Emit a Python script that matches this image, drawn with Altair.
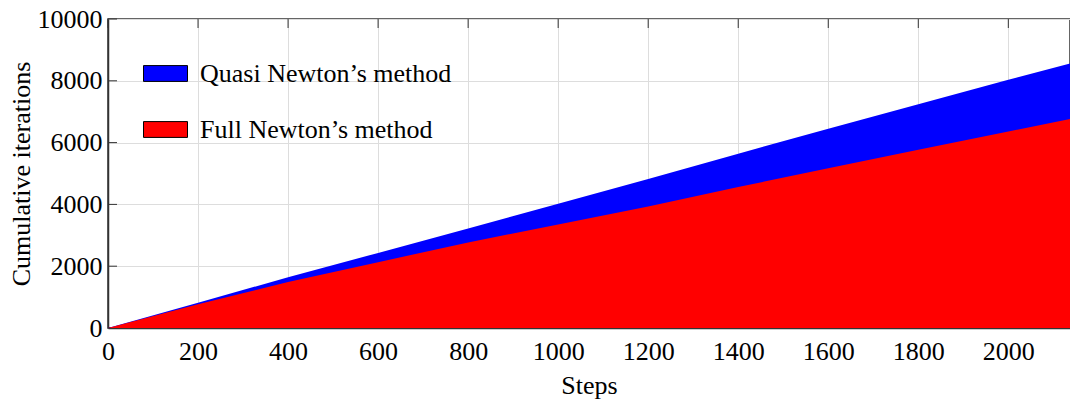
import altair as alt
import pandas as pd

steps = [0, 200, 400, 600, 800, 1000, 1200, 1400, 1600, 1800, 2000, 2137]
quasi = [0, 820, 1640, 2430, 3220, 4020, 4820, 5640, 6450, 7240, 8030, 8560]
full = [0, 770, 1490, 2130, 2770, 3350, 3930, 4560, 5170, 5770, 6360, 6760]

series_names = ["Quasi Newton\u2019s method", "Full Newton\u2019s method"]
series_colors = ["#0000FF", "#FF0000"]
x_ticks = [0, 200, 400, 600, 800, 1000, 1200, 1400, 1600, 1800, 2000]
y_ticks = [0, 2000, 4000, 6000, 8000, 10000]

rows = []
for s, q, f in zip(steps, quasi, full):
    rows.append({"step": s, "iters": q, "method": series_names[0]})
    rows.append({"step": s, "iters": f, "method": series_names[1]})
df = pd.DataFrame(rows)
xt_df = pd.DataFrame({"step": x_ticks})
yt_df = pd.DataFrame({"iters": y_ticks})

FONT = "Liberation Serif"
FS = 26

color = alt.Color(
    "method:N",
    scale=alt.Scale(domain=series_names, range=series_colors),
    sort=series_names,
    legend=alt.Legend(
        title=None,
        orient="none",
        legendX=35,
        legendY=32,
        symbolType="M-1,-0.36H1V0.36H-1Z",
        symbolSize=1936,
        symbolStrokeColor="black",
        symbolStrokeWidth=1,
        symbolOpacity=1,
        labelFont=FONT,
        labelFontSize=FS,
        labelColor="black",
        labelOffset=12,
        rowPadding=20,
        labelLimit=400,
    ),
)

x = alt.X(
    "step:Q",
    scale=alt.Scale(domain=[0, 2137], nice=False, zero=False),
    axis=alt.Axis(values=x_ticks, title="Steps", labelPadding=10, titlePadding=8,
                  tickSize=0, format="d", labelFlush=False),
)
y = alt.Y(
    "iters:Q",
    stack=None,
    scale=alt.Scale(domain=[0, 10000], nice=False),
    axis=alt.Axis(values=y_ticks, title="Cumulative iterations", labelPadding=6,
                  titlePadding=3, tickSize=0, format="d", labelFlush=False),
)

base = alt.Chart(df).mark_area(opacity=1, interpolate="linear").encode(x=x, y=y, color=color)

left_ticks = alt.Chart(yt_df).mark_rule(color="#333333", strokeWidth=1).encode(
    y=y, x=alt.value(0), x2=alt.value(9)
)
top_ticks = alt.Chart(xt_df).mark_rule(color="#333333", strokeWidth=1).encode(
    x=x, y=alt.value(0), y2=alt.value(9)
)

chart = alt.layer(
    left_ticks,
    top_ticks,
    base.transform_filter(alt.datum.method == series_names[0]),
    base.transform_filter(alt.datum.method == series_names[1]),
).properties(
    width=962,
    height=309,
    background="white",
    autosize=alt.AutoSizeParams(type="none"),
    padding={"left": 108, "top": 19, "right": 0, "bottom": 79},
).configure_axis(
    labelFont=FONT,
    titleFont=FONT,
    labelFontSize=FS,
    titleFontSize=FS,
    labelColor="black",
    titleColor="black",
    titleFontWeight="normal",
    gridColor="#DDDDDD",
    gridWidth=1,
    domainColor="#333333",
    domainWidth=1.5,
).configure_view(
    stroke="#333333",
    strokeWidth=1.5,
)

chart.save("out.html", embed_options={"renderer": "svg", "actions": False})
